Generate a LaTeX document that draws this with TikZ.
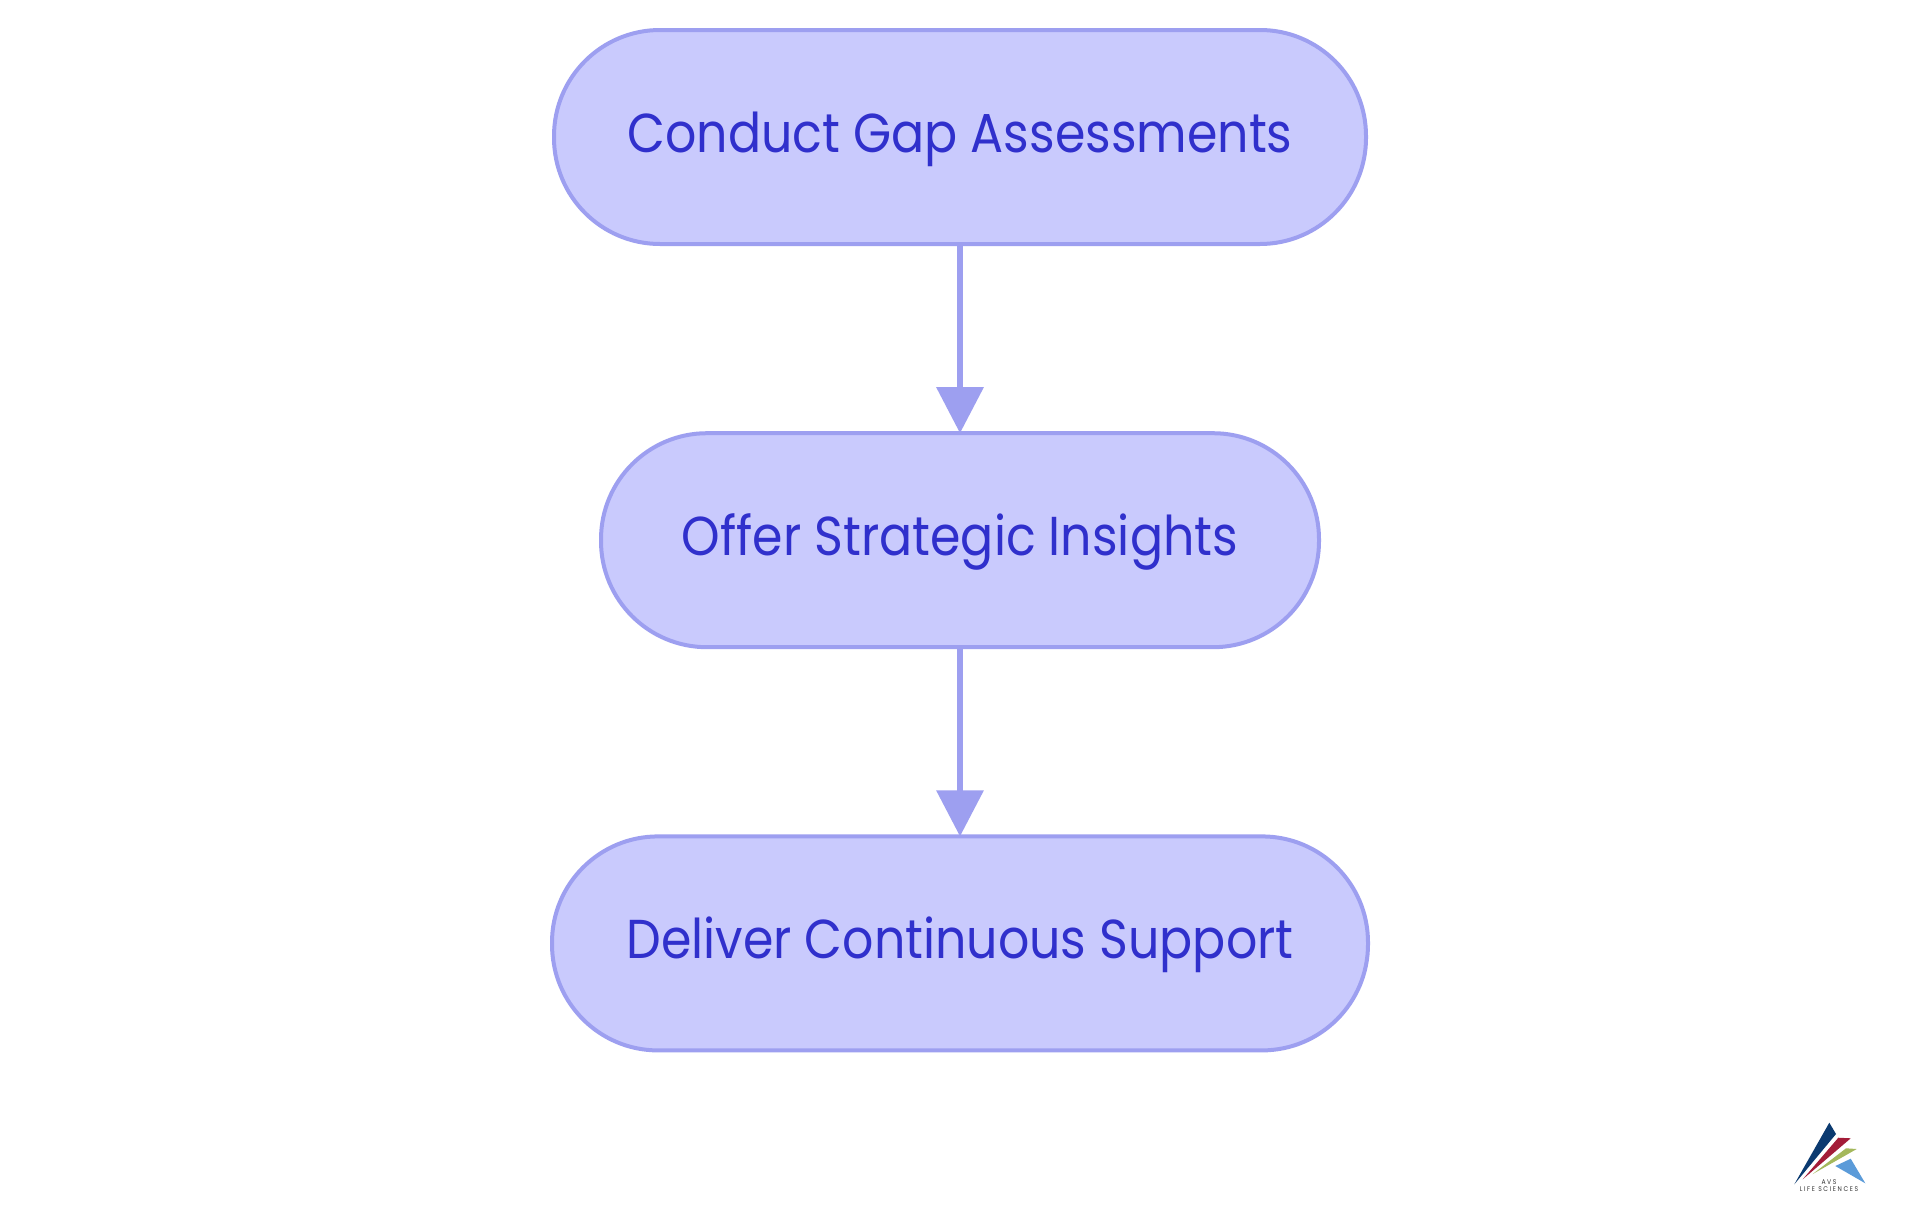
\documentclass[tikz,border=0pt]{standalone}
\usepackage{fontspec}
\setmainfont{Poppins}[FakeStretch=0.895]
\usetikzlibrary{arrows.meta,positioning}
\definecolor{stepfill}{HTML}{C9CAFD}
\definecolor{stepline}{HTML}{9D9FF0}
\definecolor{steptext}{HTML}{3030CC}
\definecolor{logoblue}{HTML}{0B3A70}
\definecolor{logored}{HTML}{A31C38}
\definecolor{logogreen}{HTML}{A4B85C}
\definecolor{logosky}{HTML}{5B9BD9}
\tikzset{
	stepbox/.style={rectangle,draw=stepline,fill=stepfill,line width=2pt,rounded corners=53pt,minimum height=107pt,text=steptext,font=\fontsize{27.4}{30}\selectfont,text height=20pt,text depth=4.6pt,inner sep=0pt},
	directed/.style={draw=stepline,line width=3.2pt,shorten >=-1pt,arrows={-Triangle[length=23pt,width=23pt]}},
	logotext/.style={inner sep=0pt,text=black!80,font=\fontsize{3.4}{3}\selectfont}
	}
\begin{document}
\begin{tikzpicture}[x=0.5pt,y=-0.5pt]
      \useasboundingbox (0,0) rectangle (1920,1215);
      \fill[white] (0,0) rectangle (1920,1215);
      \node[stepbox,minimum width=406pt] (conduct) at (960,137) {Conduct Gap Assessments};
      \node[stepbox,minimum width=359pt,below=92.6pt of conduct] (offer) {Offer Strategic Insights};
      \node[stepbox,minimum width=408pt,below=92.6pt of offer] (deliver) {Deliver Continuous Support};
      \draw[directed] (conduct) -- (offer);
      \draw[directed] (offer) -- (deliver);
      % logo
      \fill[logoblue] (1794.3,1184.3) -- (1829.3,1122.7) -- (1836,1134) -- cycle;
      \fill[logored] (1802.7,1179.3) -- (1838.3,1137.7) -- (1850.7,1138.3) -- cycle;
      \fill[logogreen] (1812.7,1174) -- (1846,1148.3) -- (1856.7,1149) -- cycle;
      \fill[logosky] (1835.3,1166) -- (1850.7,1158.7) -- (1865.3,1183.3) -- cycle;
      \node[logotext] (avs) at (1829,1182.5) {A V S};
      \node[logotext] (life) at (1829,1189.5) {L I F E\ \ S C I E N C E S};
    \end{tikzpicture}
\end{document}
